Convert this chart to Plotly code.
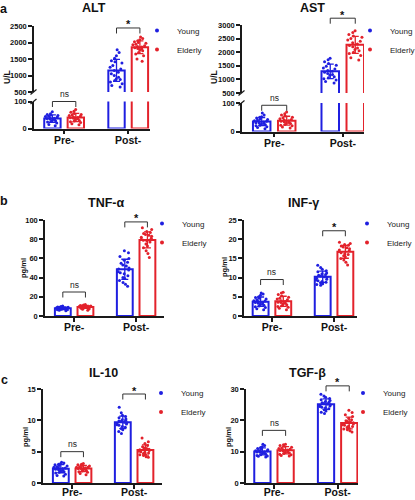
import numpy as np
import plotly.graph_objects as go

# ---------------- data ----------------
categories = ["Pre-", "Post-"]
group_names = ["Young", "Elderly"]
group_colors = ["#1f1fe0", "#e3222b"]
panel_titles = ["ALT", "AST", "TNF-α", "INF-γ", "IL-10", "TGF-β"]
y_units = ["U/L", "U/L", "pg/ml", "pg/ml", "pg/ml", "pg/ml"]
panel_letters = ["a", "b", "c"]
sig_labels = ["ns", "*"]

alt_young_pre = [62, 55, 52, 50, 48, 45, 44, 42, 40, 38, 37, 35, 33, 30, 28, 26, 24, 20, 15, 10]
alt_elderly_pre = [70, 64, 60, 56, 52, 50, 48, 45, 43, 41, 40, 38, 36, 33, 30, 28, 25, 22, 18, 14]
alt_young_post = [1780, 1700, 1600, 1520, 1450, 1420, 1380, 1300, 1250, 1200, 1150, 1100, 1050, 1000,
                  950, 900, 880, 850, 800, 750, 700, 650]
alt_elderly_post = [2170, 2120, 2080, 2050, 2020, 2000, 1980, 1950, 1930, 1900, 1880, 1860, 1840, 1820,
                    1800, 1780, 1750, 1700, 1650, 1600, 1500, 1430]

ast_young_pre = [65, 58, 52, 50, 47, 45, 42, 40, 38, 36, 35, 33, 31, 30, 28, 26, 24, 22, 20, 17, 14, 10]
ast_elderly_pre = [68, 62, 58, 54, 50, 48, 45, 42, 40, 38, 36, 34, 32, 30, 28, 25, 22, 20, 16, 12]
ast_young_post = [1780, 1720, 1650, 1580, 1520, 1480, 1420, 1380, 1330, 1300, 1260, 1220, 1180, 1150,
                  1100, 1060, 1020, 980, 920, 870]
ast_elderly_post = [2790, 2720, 2650, 2600, 2550, 2500, 2450, 2400, 2350, 2300, 2250, 2200, 2150, 2100,
                    2050, 2000, 1950, 1880, 1800, 1710]

tnf_young_pre = [10.5, 10, 9.5, 9.5, 9, 9, 8.5, 8.5, 8.5, 8, 8, 7.5, 7.5, 7.5, 7, 7, 6.5, 6.5, 6, 5.5]
tnf_elderly_pre = [12, 11.5, 11, 11, 10.5, 10.5, 10, 10, 10, 9.5, 9.5, 9, 9, 9, 8.5, 8.5, 8, 7.5, 7, 6]
tnf_young_post = [68, 66, 62, 60, 58, 56, 55, 53, 52, 50, 49, 48, 46, 45, 44, 42, 40, 39, 37, 35, 33, 31]
tnf_elderly_post = [92, 90, 88, 87, 86, 85, 84, 83, 82, 81, 80, 79, 78, 77, 75, 73, 71, 68, 65, 61]

inf_young_pre = [6.0, 5.7, 5.4, 5.0, 4.8, 4.6, 4.4, 4.2, 4.0, 3.9, 3.8, 3.6, 3.5, 3.3, 3.1, 3.0, 2.8,
                 2.6, 2.4, 2.2, 1.9, 1.6]
inf_elderly_pre = [6.2, 6.0, 5.6, 5.2, 4.9, 4.6, 4.4, 4.2, 4.0, 3.8, 3.6, 3.5, 3.3, 3.1, 2.9, 2.7, 2.5,
                   2.3, 2.0, 1.6]
inf_young_post = [13.2, 12.6, 12.2, 11.8, 11.5, 11.2, 11.0, 10.8, 10.6, 10.4, 10.2, 10.0, 9.8, 9.6, 9.4,
                  9.2, 9.0, 8.8, 8.6, 8.4, 8.2, 8.0]
inf_elderly_post = [19.2, 18.9, 18.6, 18.4, 18.2, 18.0, 17.8, 17.5, 17.2, 17.0, 16.8, 16.5, 16.2, 16.0,
                    15.7, 15.4, 15.0, 14.6, 14.0, 13.3]

il10_young_pre = [3.3, 3.2, 3.1, 3.0, 2.9, 2.8, 2.7, 2.6, 2.5, 2.4, 2.4, 2.3, 2.2, 2.1, 2.0, 1.9, 1.8,
                  1.7, 1.6, 1.4, 1.2, 1.1]
il10_elderly_pre = [3.1, 3.0, 2.9, 2.8, 2.7, 2.6, 2.5, 2.5, 2.4, 2.4, 2.3, 2.3, 2.2, 2.1, 2.0, 1.9, 1.8,
                    1.7, 1.5, 1.3]
il10_young_post = [12.1, 11.2, 10.8, 10.6, 10.4, 10.2, 10.1, 10.0, 9.9, 9.8, 9.7, 9.6, 9.5, 9.4, 9.3,
                   9.2, 9.0, 8.9, 8.7, 8.5, 8.2, 7.9]
il10_elderly_post = [7.2, 6.6, 6.3, 6.0, 5.8, 5.6, 5.5, 5.4, 5.3, 5.2, 5.1, 5.0, 4.9, 4.8, 4.7, 4.6, 4.5,
                     4.4, 4.2, 4.1]

tgf_young_pre = [12.4, 12.0, 11.6, 11.3, 11.0, 10.8, 10.6, 10.4, 10.3, 10.2, 10.1, 10.0, 9.9, 9.8, 9.6,
                 9.4, 9.2, 9.0, 8.8, 8.6, 8.5, 8.3]
tgf_elderly_pre = [12.4, 12.2, 12.0, 11.7, 11.4, 11.2, 11.0, 10.8, 10.6, 10.5, 10.4, 10.2, 10.0, 9.8, 9.6,
                   9.4, 9.2, 9.0, 8.8, 8.6]
tgf_young_post = [28.3, 27.8, 27.4, 27.0, 26.6, 26.3, 26.0, 25.8, 25.6, 25.4, 25.2, 25.0, 24.8, 24.6, 24.4,
                  24.2, 24.0, 23.7, 23.4, 23.0, 22.6, 22.2]
tgf_elderly_post = [23.2, 22.5, 21.8, 21.2, 20.6, 20.2, 19.9, 19.6, 19.4, 19.2, 19.0, 18.8, 18.6, 18.4,
                    18.2, 18.0, 17.8, 17.5, 17.2, 17.0, 16.7, 16.3]

alt_ticks_upper = [500, 1000, 1500, 2000, 2500]
ast_ticks_upper = [500, 1000, 1500, 2000, 2500, 3000]
break_ticks_lower = [0, 100]
tnf_ticks = [0, 20, 40, 60, 80, 100]
inf_ticks = [0, 5, 10, 15, 20, 25]
il10_ticks = [0, 5, 10, 15]
tgf_ticks = [0, 10, 20, 30]

# ---------------- layout geometry (pixels) ----------------
W, H = 415, 500
FONT = "Liberation Sans, Arial, Helvetica, sans-serif"
INK = "#1a1a1a"
BARGAP, GROUPGAP = 0.27, 0.30
OFF = (1 - BARGAP) / 4


def pxp(x):
    return x / W


def pyp(y):
    return 1 - y / H


PANELS = [
    dict(pre=[alt_young_pre, alt_elderly_pre], post=[alt_young_post, alt_elderly_post],
         x=(34, 150), xr=(-0.47, 1.34), xstand=-3,
         segs=[dict(dom=(101.5, 128.5), rng=(0, 100), ticks=break_ticks_lower, cats=[0]),
               dict(dom=(26, 92), rng=(500, 2500), ticks=alt_ticks_upper, cats=[1])],
         title=(94, 8), ytitle=(7, 77), ysize=8.5, tsize=7.5, legend=(172, 40),
         sig=[(100, 0), (2440, 1)]),
    dict(pre=[ast_young_pre, ast_elderly_pre], post=[ast_young_post, ast_elderly_post],
         x=(242, 364), xr=(-0.47, 1.31), xstand=-3,
         segs=[dict(dom=(103, 131.5), rng=(0, 100), ticks=break_ticks_lower, cats=[0]),
               dict(dom=(25, 93), rng=(500, 3000), ticks=ast_ticks_upper, cats=[1])],
         title=(312, 8), ytitle=(214, 77), ysize=8.5, tsize=7.5, legend=(385, 40),
         sig=[(92, 0), (3250, 1)]),
    dict(pre=[tnf_young_pre, tnf_elderly_pre], post=[tnf_young_post, tnf_elderly_post],
         x=(45, 164), xr=(-0.47, 1.45), xstand=-3,
         segs=[dict(dom=(220, 316), rng=(0, 100), ticks=tnf_ticks, cats=[0, 1])],
         title=(106, 203), ytitle=(23, 268), ysize=7.5, tsize=7.5, legend=(177, 233),
         sig=[(25, 0), (98, 0)]),
    dict(pre=[inf_young_pre, inf_elderly_pre], post=[inf_young_post, inf_elderly_post],
         x=(244, 357), xr=(-0.45, 1.37), xstand=-3,
         segs=[dict(dom=(220, 316), rng=(0, 25), ticks=inf_ticks, cats=[0, 1])],
         title=(303, 203), ytitle=(224, 267), ysize=7.5, tsize=7.5, legend=(382, 233),
         sig=[(9.5, 0), (22.2, 0)]),
    dict(pre=[il10_young_pre, il10_elderly_pre], post=[il10_young_post, il10_elderly_post],
         x=(43, 162), xr=(-0.47, 1.45), xstand=-5,
         segs=[dict(dom=(389, 483), rng=(0, 15), ticks=il10_ticks, cats=[0, 1])],
         title=(103, 373), ytitle=(25, 437), ysize=7.5, tsize=7.5, legend=(176, 402.5),
         sig=[(5.0, 0), (14.2, 0)]),
    dict(pre=[tgf_young_pre, tgf_elderly_pre], post=[tgf_young_post, tgf_elderly_post],
         x=(246, 358), xr=(-0.44, 1.32), xstand=-5,
         segs=[dict(dom=(389, 483), rng=(0, 30), ticks=tgf_ticks, cats=[0, 1])],
         title=(307, 373), ytitle=(228, 437), ysize=7.5, tsize=7.5, legend=(378, 402.5),
         sig=[(16.8, 0), (31, 0)]),
]
LETTERS = [(3.5, 8.5), (4, 201), (4, 380)]

fig = go.Figure()
lay = {}
shapes = []
annos = []
axis_n = 0

for pi, P in enumerate(PANELS):
    legend_key = "legend" if pi == 0 else f"legend{pi + 1}"
    xl, xr_px = P["x"]
    r0, r1 = P["xr"]

    def xpix(v):
        return xl + (v - r0) / (r1 - r0) * (xr_px - xl)

    seg_info = []
    for si, S in enumerate(P["segs"]):
        axis_n += 1
        sfx = "" if axis_n == 1 else str(axis_n)
        xa, ya = "x" + sfx, "y" + sfx
        agroup = f"sub{axis_n}"
        for gi in range(2):
            pre, post = P["pre"][gi], P["post"][gi]
            means = [float(np.mean(pre)), float(np.mean(post))]
            sds = [float(np.std(pre, ddof=1)), float(np.std(post, ddof=1))]
            fig.add_trace(go.Bar(
                x=categories, y=means, name=group_names[gi], showlegend=False,
                xaxis=xa, yaxis=ya, alignmentgroup=agroup, offsetgroup=f"{agroup}g{gi}",
                marker=dict(color="rgba(255,255,255,0)", line=dict(color=group_colors[gi], width=2)),
                error_y=dict(type="data", array=sds, visible=True, color=group_colors[gi],
                             thickness=1.3, width=3.5),
            ))
        for gi in range(2):
            xs, ys = [], []
            for ci, cat in enumerate(categories):
                if ci in S["cats"]:
                    vals = (P["pre"], P["post"])[ci][gi]
                    xs += [cat] * len(vals)
                    ys += list(vals)
            fig.add_trace(go.Box(
                x=xs, y=ys, name=group_names[gi], showlegend=False, xaxis=xa, yaxis=ya,
                alignmentgroup=agroup, offsetgroup=f"{agroup}g{gi}",
                boxpoints="all", jitter=0.9, pointpos=0,
                marker=dict(color=group_colors[gi], size=3),
                line=dict(width=0, color=group_colors[gi]), fillcolor="rgba(0,0,0,0)",
                hoveron="points",
            ))
        if si == 0:
            for gi in range(2):
                fig.add_trace(go.Scatter(
                    x=[None], y=[None], mode="markers", name=group_names[gi],
                    marker=dict(color=group_colors[gi], size=4),
                    xaxis=xa, yaxis=ya, legend=legend_key, showlegend=True,
                ))
        top, bot = S["dom"]
        lay["xaxis" + sfx] = dict(
            domain=[pxp(xl), pxp(xr_px)], range=[r0, r1], anchor=ya, automargin=False,
            type="category", categoryorder="array", categoryarray=categories,
            showline=True, linecolor=INK, linewidth=1.5, ticks="outside", ticklen=4,
            tickwidth=1.5, tickcolor=INK, showgrid=False, zeroline=False,
            ticklabelstandoff=P["xstand"],
            tickfont=dict(family=FONT, size=10.5, color="#111", weight="bold"),
            visible=(si == 0),
        )
        lay["yaxis" + sfx] = dict(
            domain=[pyp(bot), pyp(top)], range=list(S["rng"]), anchor=xa, automargin=False,
            tickmode="array", tickvals=S["ticks"],
            showline=True, linecolor=INK, linewidth=1.5, ticks="outside", ticklen=4,
            tickwidth=1.5, tickcolor=INK, showgrid=False, zeroline=False,
            tickfont=dict(family=FONT, size=P["tsize"], color="#111", weight="bold"),
        )
        seg_info.append(S)

    # significance brackets
    for k, (level, seg_idx) in enumerate(P["sig"]):
        S = seg_info[seg_idx]
        top, bot = S["dom"]
        v0, v1 = S["rng"]
        yb = bot - (level - v0) / (v1 - v0) * (bot - top)
        xa0 = xpix(k - OFF)
        xa1 = xpix(k + OFF)
        drop = 5.5
        path = (f"M {pxp(xa0)},{pyp(yb + drop)} L {pxp(xa0)},{pyp(yb)} "
                f"L {pxp(xa1)},{pyp(yb)} L {pxp(xa1)},{pyp(yb + drop)}")
        shapes.append(dict(type="path", path=path, xref="paper", yref="paper",
                           line=dict(color="#333", width=1)))
        if sig_labels[k] == "ns":
            annos.append(dict(x=pxp((xa0 + xa1) / 2), y=pyp(yb - 7.5), xref="paper", yref="paper",
                              text="ns", showarrow=False, xanchor="center", yanchor="middle",
                              font=dict(family=FONT, size=8.5, color="#222")))
        else:
            annos.append(dict(x=pxp((xa0 + xa1) / 2), y=pyp(yb - 3.5), xref="paper", yref="paper",
                              text="*", showarrow=False, xanchor="center", yanchor="middle",
                              font=dict(family=FONT, size=11, color="#111", weight="bold")))

    # axis break marks
    if len(P["segs"]) == 2:
        lo, up = P["segs"]
        for yc in (up["dom"][1], lo["dom"][0]):
            shapes.append(dict(type="line", xref="paper", yref="paper",
                               x0=pxp(xl - 3.5), y0=pyp(yc + 2.5), x1=pxp(xl + 2.5), y1=pyp(yc - 2.5),
                               line=dict(color=INK, width=1.2)))

    # title and y-axis title
    tx, ty = P["title"]
    annos.append(dict(x=pxp(tx), y=pyp(ty), xref="paper", yref="paper", text=panel_titles[pi],
                      showarrow=False, xanchor="center", yanchor="middle",
                      font=dict(family=FONT, size=12.5, color="#111", weight="bold")))
    yx, yy = P["ytitle"]
    annos.append(dict(x=pxp(yx), y=pyp(yy), xref="paper", yref="paper", text=y_units[pi],
                      showarrow=False, textangle=-90, xanchor="center", yanchor="middle",
                      font=dict(family=FONT, size=P["ysize"], color="#111", weight="bold")))

    ltx, lmy = P["legend"]
    lay[legend_key] = dict(
        x=pxp(ltx - 35), y=pyp(lmy), xanchor="left", yanchor="middle",
        bgcolor="rgba(0,0,0,0)", tracegroupgap=0, itemwidth=30, traceorder="normal",
        font=dict(family=FONT, size=8, color="#222"),
    )

for letter, (lx, ly) in zip(panel_letters, LETTERS):
    annos.append(dict(x=pxp(lx), y=pyp(ly), xref="paper", yref="paper", text=letter,
                      showarrow=False, xanchor="center", yanchor="middle",
                      font=dict(family=FONT, size=12.5, color="#111", weight="bold")))

fig.update_layout(
    width=W, height=H, margin=dict(l=0, r=0, t=0, b=0, autoexpand=False),
    paper_bgcolor="white", plot_bgcolor="rgba(0,0,0,0)",
    barmode="group", bargap=BARGAP, bargroupgap=GROUPGAP,
    boxmode="group", boxgap=BARGAP, boxgroupgap=GROUPGAP,
    font=dict(family=FONT, color="#111"),
    shapes=shapes, annotations=annos,
    **lay,
)

fig.write_html(
    "out.html",
    config={"displayModeBar": False},
    post_script="document.body.style.margin='0px';document.documentElement.style.overflow='hidden';",
)
